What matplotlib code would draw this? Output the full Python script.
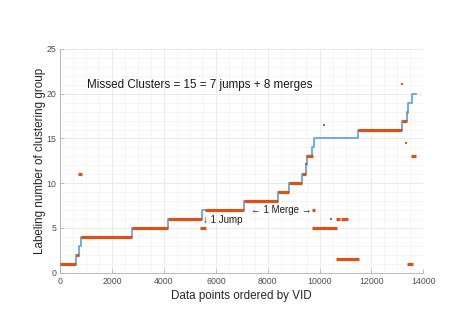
import matplotlib
matplotlib.use("Agg")
import matplotlib.pyplot as plt
from matplotlib.ticker import MultipleLocator

plt.rcParams['font.family'] = ['Liberation Sans', 'DejaVu Sans']

# Ground-truth step function (blue)
truth_breaks = [0, 605, 733, 800, 2777, 4140, 5465, 7096, 8408, 8820, 9310,
                9476, 9500, 9725, 9784, 11470, 13166, 13360, 13420, 13550, 13705]
truth_levels = [1, 2, 3, 4, 5, 6, 7, 8, 9, 10, 11, 12, 13, 14, 15, 16, 17,
                18, 19, 20]

# Predicted labels (orange): runs of points
pred_start = [0, 605, 670, 800, 2777, 4140, 5400, 5580, 7096, 8408, 8820,
              9310, 9476, 9690, 9690, 10630, 10825, 10630, 11470, 13166,
              13360, 13520, 13370]
pred_end = [605, 733, 825, 2777, 4140, 5453, 5620, 7096, 8408, 8820, 9310,
            9476, 9733, 9820, 10680, 10785, 11080, 11510, 13166, 13360,
            13420, 13720, 13590]
pred_level = [1, 2, 11, 4, 5, 6, 5, 7, 8, 9, 10, 11, 13, 7, 5, 6, 6, 1.5,
              16, 17, 18, 13, 1]

# Isolated predicted points (orange dots)
dot_x = [9490, 10180, 10440, 13166, 13332]
dot_y = [12.1, 16.55, 6, 21.05, 14.55]

orange = '#D95319'
blue = '#62A8DE'

fig = plt.figure(figsize=(4.68, 3.31), dpi=100)
ax = fig.add_axes([0.1288, 0.1761, 0.7757, 0.6759])

xs = truth_breaks
ys = truth_levels + [truth_levels[-1]]
ax.step(xs, ys, where='post', color=blue, lw=1.3, zorder=2)

ax.hlines(pred_level, pred_start, pred_end, colors=orange, lw=2.3,
          capstyle='butt', zorder=3)
ax.plot(dot_x, dot_y, 's', color=orange, ms=2.0, mew=0, zorder=3)

ax.set_xlim(0, 14000)
ax.set_ylim(0, 25)
ax.xaxis.set_major_locator(MultipleLocator(2000))
ax.xaxis.set_minor_locator(MultipleLocator(500))
ax.yaxis.set_major_locator(MultipleLocator(5))
ax.yaxis.set_minor_locator(MultipleLocator(1))
ax.grid(which='major', color='#e6e6e6', lw=0.6)
ax.grid(which='minor', color='#f2f2f2', lw=0.5)
ax.set_axisbelow(True)

for s in ['top', 'right']:
    ax.spines[s].set_visible(False)
for s in ['left', 'bottom']:
    ax.spines[s].set_color('#b0b0b0')
    ax.spines[s].set_linewidth(0.6)
ax.tick_params(which='major', direction='in', length=3, width=0.6,
               color='#b0b0b0', labelsize=6.3, labelcolor='#4d4d4d', pad=3)
ax.tick_params(which='minor', length=0)

ax.set_xlabel('Data points ordered by VID', fontsize=8.4, color='#262626',
              labelpad=3)
ax.set_ylabel('Labeling number of clustering group', fontsize=8.4,
              color='#262626', labelpad=0.5)

ax.text(1033, 21.0, 'Missed Clusters = 15 = 7 jumps + 8 merges',
        fontsize=8.4, color='#1a1a1a', va='center', ha='left')
ax.text(5500, 5.94, '\u2193 1 Jump', fontsize=7, color='#1a1a1a',
        va='center', ha='left')
ax.text(7350, 7.0, '\u2190 1 Merge \u2192', fontsize=7, color='#1a1a1a',
        va='center', ha='left')

fig.savefig('out.png', dpi=100)
